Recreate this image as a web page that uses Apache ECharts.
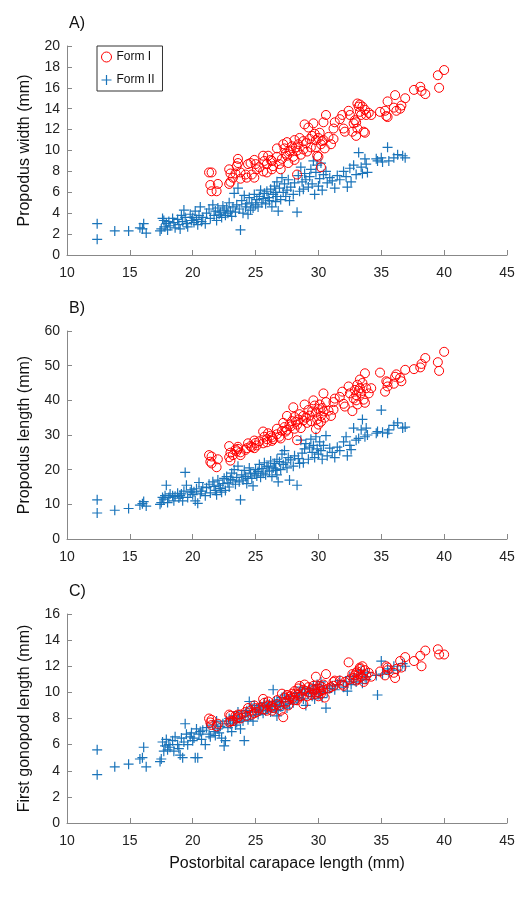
<!DOCTYPE html>
<html>
<head>
<meta charset="utf-8">
<script src="https://cdn.jsdelivr.net/npm/echarts@6.0.0/dist/echarts.min.js"></script>
<style>
  html, body { margin: 0; padding: 0; background: #fff; }
  #chart { width: 525px; height: 901px; }
</style>
</head>
<body>
<div id="chart"></div>
<script>
// postorbital carapace length (mm), Form I males
const formIX = [21.3,21.5,21.4,21.5,21.9,22.0,22.9,23.0,23.2,22.9,23.0,23.6,23.6,23.5,23.4,23.8,23.8,24.2,24.3,24.4,
  24.6,24.7,24.9,25.0,25.1,24.9,25.3,25.6,25.7,25.9,25.9,25.6,26.0,26.3,26.3,26.4,26.7,26.7,26.9,27.0,
  27.1,27.2,27.3,27.5,27.5,27.6,27.7,27.9,28.0,28.1,28.1,28.3,28.3,28.4,28.5,28.6,28.8,28.8,28.9,29.2,
  29.3,29.4,29.6,29.7,29.8,29.8,29.9,30.0,30.0,30.1,30.2,30.2,30.4,30.4,30.5,30.6,30.8,31.0,31.2,31.3,
  31.2,31.7,31.9,32.0,32.1,32.4,32.5,32.7,32.8,32.9,33.1,33.2,33.3,33.4,33.5,33.3,33.0,33.1,33.0,33.7,
  33.8,33.7,33.6,34.0,34.2,34.9,35.3,35.4,35.5,35.5,36.1,36.0,36.2,36.5,36.6,36.9,37.6,38.1,38.2,38.5,
  39.5,39.6,40.0,26.2,27.4,28.2,29.0,29.5,30.3,29.1,27.8];
const formIWidth = [7.9,7.9,6.7,6.1,6.1,6.8,8.2,7.8,7.4,6.8,7.0,9.2,8.8,8.5,7.8,7.9,7.3,7.7,7.4,8.7,
  8.8,7.7,9.1,8.7,8.2,7.4,8.4,8.0,9.0,8.7,7.9,9.5,9.5,9.0,8.2,8.5,9.4,10.2,8.7,8.2,
  9.2,10.6,10.2,10.8,9.5,8.8,9.9,10.4,9.4,11.0,9.1,10.0,7.7,10.6,11.2,9.6,10.1,10.9,12.5,12.2,
  11.1,10.3,12.6,11.6,11.0,10.3,9.5,9.4,11.2,11.7,10.6,8.4,12.7,11.0,10.2,13.4,11.3,10.6,12.1,12.7,
  11.1,13.0,13.4,12.1,11.8,13.8,13.4,11.8,12.6,12.9,14.5,14.2,13.7,13.4,14.2,14.4,12.7,12.1,11.4,13.9,
  13.4,11.7,11.8,13.6,13.4,13.7,13.8,13.3,13.2,14.7,15.3,14.1,13.8,14.0,14.3,15.0,15.8,16.1,15.7,15.4,
  17.2,16.0,17.7,9.1,9.7,10.3,10.7,11.4,10.9,9.9,10.0];
const formILength = [24.2,23.8,22.3,21.8,20.7,23.0,26.8,24.9,24.2,23.6,22.6,26.6,26.0,25.3,25.8,25.0,24.2,25.7,26.2,27.6,
  26.8,26.5,28.4,27.7,27.0,26.2,28.2,27.6,29.5,28.8,27.9,31.0,30.5,29.3,28.3,28.8,30.2,31.8,29.5,29.0,
  31.2,33.5,32.3,35.5,31.5,30.0,33.0,34.0,38.0,35.2,31.8,33.0,28.5,34.5,36.0,32.0,34.2,35.5,38.8,37.2,
  35.6,34.0,40.0,38.5,36.5,31.7,34.5,33.0,37.5,38.8,35.5,33.8,42.0,36.8,35.0,39.5,37.0,35.5,39.5,40.5,
  37.3,41.0,42.5,39.0,38.2,44.0,42.0,36.9,40.5,43.0,44.5,42.8,43.5,42.0,45.0,46.0,40.0,38.8,41.5,47.8,
  43.5,39.3,40.2,42.0,43.5,48.0,42.5,45.5,44.0,45.2,46.8,44.8,47.5,46.5,45.5,48.8,49.0,49.5,50.5,52.2,
  51.0,48.5,54.0,29.8,31.0,33.8,35.0,36.8,37.8,33.5,32.5];
const formIGonopod = [8.0,7.9,7.7,7.5,7.4,7.6,8.3,8.2,7.8,7.7,7.8,8.3,8.1,8.0,8.2,8.3,8.0,8.5,8.2,8.8,
  8.6,8.3,9.0,8.8,8.5,8.4,8.8,8.7,9.2,9.0,8.6,9.5,9.3,9.0,8.6,8.8,9.1,9.4,9.0,8.6,
  9.9,8.1,9.6,9.8,9.3,9.0,9.5,9.9,9.6,10.1,9.4,9.8,9.4,10.3,10.5,9.7,9.1,10.2,10.6,10.4,
  10.0,9.8,10.5,10.2,11.2,9.9,10.0,9.7,10.3,10.5,10.1,9.9,10.6,10.2,9.6,11.4,10.3,10.4,10.8,10.9,
  10.5,10.9,10.6,10.5,10.8,12.3,11.0,11.4,11.1,11.3,11.6,11.4,11.8,11.2,12.0,11.9,10.9,11.0,11.5,11.7,
  11.3,11.0,10.8,11.5,11.2,11.6,11.3,12.0,11.7,11.9,11.1,11.5,11.8,12.4,11.9,12.7,12.4,12.8,12.0,13.2,
  13.3,12.9,12.9,8.9,9.2,9.9,10.1,10.3,10.4,9.7,9.7];

// Form II males
const formIIX = [12.4,12.4,13.8,14.9,15.8,16.1,16.3,16.0,
  17.4,17.5,17.6,17.7,17.8,17.9,18.0,18.1,18.2,18.4,18.5,18.6,18.8,18.9,19.0,19.1,19.2,19.3,19.4,19.5,19.6,19.8,19.9,20.0,
  20.1,20.2,20.3,20.4,20.5,20.6,20.7,20.8,21.0,21.1,21.3,21.4,21.6,21.7,21.8,21.9,22.0,22.1,22.2,22.3,22.4,22.5,
  22.6,22.7,22.8,22.9,23.0,23.1,23.2,23.3,23.4,23.5,23.6,23.7,23.8,23.9,24.0,24.1,24.2,24.3,24.4,24.5,24.6,24.7,24.8,24.9,25.0,
  25.1,25.2,25.3,25.4,25.5,25.6,25.7,25.8,25.9,26.0,26.1,26.2,26.3,26.4,26.5,26.6,26.6,26.7,26.7,26.8,26.9,27.0,27.1,27.2,27.3,27.4,
  27.5,27.6,27.7,27.8,28.0,28.1,28.3,28.4,28.5,28.6,28.7,28.8,28.9,29.0,29.2,29.3,29.4,29.5,29.6,29.7,29.8,29.9,30.0,30.1,30.2,30.3,30.4,30.6,30.7,30.9,
  31.1,31.3,31.5,31.7,32.0,32.2,32.3,32.5,32.6,32.8,33.0,33.2,33.4,33.5,33.7,33.8,33.9,34.6,34.7,35.0,35.1,35.5,35.6,36.0,36.3,36.7,36.9];
const formIIWidth = [3.0,1.5,2.3,2.3,2.6,3.0,2.1,2.5,
  2.3,2.5,3.5,3.3,2.7,3.0,2.4,3.2,2.8,3.5,3.1,2.6,3.4,2.9,2.5,3.8,3.2,4.3,3.6,3.0,2.7,3.9,3.3,3.6,
  3.1,4.2,3.4,2.9,3.8,4.6,3.2,3.6,3.0,4.0,4.4,3.5,4.8,3.8,4.2,3.3,4.5,3.9,4.1,3.6,4.7,4.3,
  3.8,4.5,4.0,5.0,4.2,3.7,4.6,5.9,4.1,4.8,6.4,4.4,2.4,5.2,4.0,5.7,4.6,4.9,3.9,5.5,4.3,5.0,4.5,5.8,4.8,
  5.3,4.6,5.6,6.2,5.0,5.4,5.9,4.9,6.1,5.5,5.2,6.3,4.6,5.8,6.6,5.1,6.0,7.0,5.6,4.2,6.4,5.3,7.4,6.0,6.8,5.6,
  6.2,7.2,5.2,6.5,5.8,6.9,4.1,7.6,6.1,8.4,7.0,6.3,7.8,7.2,6.5,7.5,8.2,6.8,9.0,5.8,7.9,8.6,6.6,7.3,8.8,6.2,7.7,8.0,6.9,7.4,
  7.1,6.4,7.6,7.2,8.0,7.5,6.5,8.3,7.0,8.6,7.7,9.8,8.4,7.8,9.2,8.7,7.9,9.2,9.0,9.3,8.9,10.3,9.0,9.3,9.6,9.5,9.3];
const formIILength = [11.3,7.5,8.3,8.8,9.8,10.8,9.5,10.2,
  10.0,10.5,12.0,11.5,12.5,15.5,10.5,12.0,13.0,12.5,11.0,12.3,13.2,11.8,12.5,13.0,11.0,13.8,19.2,15.5,12.0,13.5,14.2,12.8,
  13.6,11.0,14.5,10.3,16.3,13.0,13.8,15.0,12.5,14.8,15.8,13.3,16.5,15.2,14.0,12.8,17.0,15.5,14.6,13.5,16.0,17.5,
  14.0,18.0,16.2,15.0,17.2,19.0,16.8,20.0,15.8,17.8,21.0,16.5,11.3,18.5,17.0,19.8,18.0,16.0,17.5,20.5,19.0,17.5,15.3,18.8,20.0,
  18.2,19.5,21.5,17.8,20.3,19.0,22.0,18.5,20.8,21.0,19.6,22.5,18.0,20.5,21.8,19.8,20.2,23.0,18.5,16.5,22.3,20.0,24.5,21.5,25.5,22.0,
  20.5,23.5,17.0,22.8,21.0,24.0,15.5,23.2,21.8,28.5,24.8,22.0,26.0,27.5,23.0,26.5,28.8,25.0,27.0,23.5,29.5,26.0,24.5,28.0,25.5,23.0,27.0,29.8,24.0,26.2,
  25.0,23.5,26.5,25.5,28.0,29.5,24.0,27.0,25.8,32.0,28.5,29.0,31.5,34.5,29.5,32.0,30.0,30.5,31.0,37.2,30.8,30.5,31.5,32.8,33.5,32.0,32.3];
const formIIGonopod = [5.6,3.7,4.3,4.5,4.9,5.8,4.3,5.0,
  4.7,4.9,6.2,5.5,5.9,6.4,5.6,6.0,5.8,6.3,5.5,6.6,6.0,5.7,5.2,6.5,5.0,6.2,7.6,6.8,6.0,6.6,6.9,6.3,
  6.5,5.0,7.2,5.0,6.8,7.0,6.4,7.1,6.0,7.3,6.8,6.6,7.5,7.0,6.7,7.8,7.2,6.9,7.4,6.5,7.6,5.9,
  6.3,7.8,7.3,8.0,7.6,7.0,7.9,8.2,7.5,7.7,8.5,8.0,7.2,8.1,7.8,6.3,8.4,8.6,7.9,9.3,8.2,8.8,7.8,9.0,8.5,
  8.7,8.3,9.0,8.6,8.9,8.4,9.2,8.6,9.0,8.8,9.1,8.5,8.9,10.2,9.3,8.7,9.0,9.4,8.2,8.6,9.2,8.9,9.6,9.0,9.8,9.3,
  8.8,9.5,9.1,9.7,9.2,9.9,9.4,9.6,10.0,10.4,9.8,9.5,10.2,9.0,9.9,10.3,10.0,9.7,10.5,9.5,10.2,10.6,9.9,10.1,10.8,9.6,10.4,8.8,10.0,10.3,
  10.5,10.2,10.6,10.9,10.4,10.8,10.1,11.2,10.6,11.0,10.8,11.4,11.7,10.7,11.2,11.0,11.5,11.3,9.8,12.4,11.4,11.8,11.5,12.0,11.7,12.2,12.0];

const panelLabels = ['A)', 'B)', 'C)'];
const yNames = ['Propodus width (mm)', 'Propodus length (mm)', 'First gonopod length (mm)'];
const yMax = [20, 60, 16];
const yStep = [2, 10, 2];
const xName = 'Postorbital carapace length (mm)';

const RED = '#ff0000';
const BLUE = '#1a74ba';
const AXIS = '#888888';
const FONT = 'Liberation Sans, Arial, sans-serif';
const PLUS = 'path://M-1,-0.12H1V0.12H-1Z M-0.12,-1H0.12V1H-0.12Z';

const gridTops = [46, 331, 614];
const gridHeights = [209, 208, 209];

const pairs = (xs, ys) => xs.map((x, i) => [x, ys[i]]);
const formIY = [formIWidth, formILength, formIGonopod];
const formIIY = [formIIWidth, formIILength, formIIGonopod];

let chart = echarts.init(document.getElementById('chart'), null, { renderer: 'canvas' });

const grid = [], xAxis = [], yAxis = [], series = [], title = [];
for (let p = 0; p < 3; p++) {
  grid.push({ left: 67, width: 440, top: gridTops[p], height: gridHeights[p] });
  title.push({
    text: panelLabels[p], left: 64, top: gridTops[p] - 35,
    textStyle: { fontFamily: FONT, fontSize: 16, fontWeight: 'normal', color: '#111' }
  });
  xAxis.push({
    gridIndex: p, type: 'value', min: 10, max: 45, interval: 5,
    name: p === 2 ? xName : '', nameLocation: 'middle', nameGap: 33,
    nameTextStyle: { fontFamily: FONT, fontSize: 16, color: '#111' },
    axisLine: { show: true, lineStyle: { color: AXIS, width: 1 } },
    axisTick: { show: true, inside: true, length: 5, lineStyle: { color: AXIS } },
    axisLabel: { fontFamily: FONT, fontSize: 14, color: '#222', margin: 11 },
    splitLine: { show: false }
  });
  yAxis.push({
    gridIndex: p, type: 'value', min: 0, max: yMax[p], interval: yStep[p],
    name: yNames[p], nameLocation: 'middle', nameGap: 34, nameRotate: 90,
    nameTextStyle: { fontFamily: FONT, fontSize: 16, color: '#111' },
    axisLine: { show: true, lineStyle: { color: AXIS, width: 1 } },
    axisTick: { show: true, inside: true, length: 5, lineStyle: { color: AXIS } },
    axisLabel: { fontFamily: FONT, fontSize: 14, color: '#222', margin: 7 },
    splitLine: { show: false }
  });
  // Form II first so the red circles sit on top
  series.push({
    name: 'Form II', type: 'scatter', xAxisIndex: p, yAxisIndex: p,
    data: pairs(formIIX, formIIY[p]),
    symbol: PLUS, symbolSize: 10,
    itemStyle: { color: BLUE, opacity: 1 },
    emphasis: { disabled: true }
  });
  series.push({
    name: 'Form I', type: 'scatter', xAxisIndex: p, yAxisIndex: p,
    data: pairs(formIX, formIY[p]),
    symbol: 'circle', symbolSize: 9,
    itemStyle: { color: 'rgba(255,255,255,0)', borderColor: RED, borderWidth: 1, opacity: 1 },
    emphasis: { disabled: true }
  });
}

chart.setOption({
  animation: false,
  backgroundColor: '#fff',
  title: title,
  legend: {
    data: [
      { name: 'Form I', icon: 'circle', itemStyle: { color: 'rgba(255,255,255,0)', borderColor: RED, borderWidth: 1 } },
      { name: 'Form II', icon: PLUS, itemStyle: { color: BLUE } }
    ],
    orient: 'vertical', left: 97, top: 46,
    itemWidth: 10, itemHeight: 10, itemGap: 11,
    padding: [5, 8, 5, 4],
    borderColor: '#333', borderWidth: 1,
    textStyle: { fontFamily: FONT, fontSize: 12, color: '#111' }
  },
  grid: grid,
  xAxis: xAxis,
  yAxis: yAxis,
  series: series
});
</script>
</body>
</html>
